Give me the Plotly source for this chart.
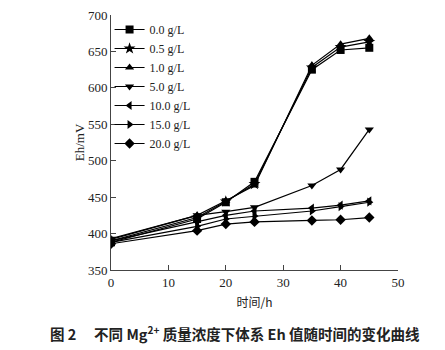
import plotly.graph_objects as go

time_h = [0, 15, 20, 25, 35, 40, 45]
series_names = ["0.0 g/L", "0.5 g/L", "1.0 g/L", "5.0 g/L", "10.0 g/L", "15.0 g/L", "20.0 g/L"]
eh_00 = [388, 420, 443, 471, 625, 652, 655]
eh_05 = [390, 422, 444, 468, 628, 656, 663]
eh_10 = [392, 425, 445, 466, 631, 660, 668]
eh_50 = [393, 425, 430, 436, 466, 488, 543]
eh_100 = [390, 416, 425, 431, 435, 439, 445]
eh_150 = [388, 410, 420, 424, 431, 437, 443]
eh_200 = [386, 404, 413, 416, 418, 419, 422]
all_values = [eh_00, eh_05, eh_10, eh_50, eh_100, eh_150, eh_200]
symbols = ["square", "star", "triangle-up", "triangle-down", "triangle-left", "triangle-right", "diamond"]

serif = "Liberation Serif, Times New Roman, serif"
fig = go.Figure()
for name, vals, sym in zip(series_names, all_values, symbols):
    fig.add_trace(go.Scatter(
        x=time_h, y=vals, name=name, mode="lines+markers",
        line=dict(color="black", width=1.2),
        marker=dict(symbol=sym, size=8 if sym != "star" else 9, color="black"),
    ))

fig.update_layout(
    width=445, height=350,
    margin=dict(l=111, r=47, t=15, b=80, autoexpand=False),
    paper_bgcolor="white", plot_bgcolor="white",
    font=dict(family=serif, size=13, color="#222"),
    showlegend=True,
    legend=dict(x=-0.005, y=1.0, xanchor="left", yanchor="top",
                font=dict(family=serif, size=12, color="#222"),
                bgcolor="rgba(0,0,0,0)", tracegroupgap=0, itemwidth=30),
    xaxis=dict(range=[0, 50], dtick=10, ticks="inside", ticklen=5,
               showline=True, linecolor="#444", linewidth=1, showgrid=False,
               zeroline=False, tickfont=dict(family=serif, size=13),
               title=dict(text="时间/h", font=dict(family="Noto Sans CJK SC", size=12), standoff=10)),
    yaxis=dict(range=[350, 700], dtick=50, ticks="inside", ticklen=5,
               showline=True, linecolor="#444", linewidth=1, showgrid=False,
               zeroline=False, tickfont=dict(family=serif, size=13),
               title=dict(text="Eh/mV", font=dict(family=serif, size=13), standoff=0)),
)
fig.add_annotation(
    x=(48 - 111) / (445 - 111 - 47), y=(350 - 80 - 333) / (350 - 15 - 80),
    xref="paper", yref="paper", showarrow=False,
    text="<b>图 2</b>　 <b>不同 Mg<sup>2+</sup> 质量浓度下体系 Eh 值随时间的变化曲线</b>",
    font=dict(family="Noto Sans CJK SC", size=14.5, color="#222"),
    xanchor="left", yanchor="middle",
)
fig.write_html("out.html")
